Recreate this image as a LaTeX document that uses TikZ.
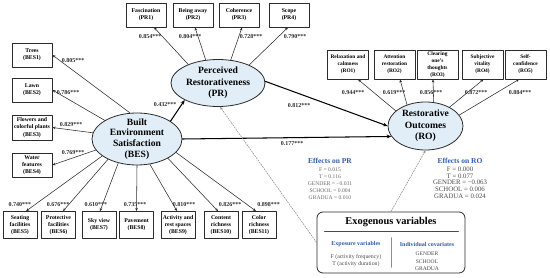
\documentclass[tikz,border=0pt]{standalone}
\usepackage{fontspec}
\setmainfont{Liberation Serif}
\usepackage{xcolor}
\usepackage{tikz}
\usetikzlibrary{arrows.meta,positioning,calc,shapes.geometric}
\definecolor{ink}{HTML}{2B2B2B}
\definecolor{softblue}{HTML}{E1EEF8}
\definecolor{effblue}{HTML}{2E5DA8}
\definecolor{dashgray}{HTML}{8E8E8E}
\definecolor{listgray}{HTML}{6A6A6A}
\definecolor{listdark}{HTML}{4A4A4A}
\newcommand{\fsz}[2]{\fontsize{#1}{#2}\selectfont}
\tikzset{
    every picture/.style={line cap=round,line join=round},
    latent/.style={ellipse,draw=ink,fill=softblue,line width=0.8pt,inner sep=0pt,
      font=\bfseries\fsz{9.6}{11.5},align=center},
    itembox/.style={draw=ink,fill=white,line width=0.75pt,inner sep=0.5pt,
      minimum width=40pt,minimum height=24pt,font=\bfseries\fsz{5.8}{7.2},align=center},
    robox/.style={itembox,minimum width=41pt,minimum height=29pt,font=\bfseries\fsz{5.4}{7}},
    besbox/.style={itembox,minimum width=34pt,minimum height=27pt,font=\bfseries\fsz{5.8}{7}},
    loading/.style={-{Stealth[length=3.2pt,width=2.6pt]},draw=ink,line width=0.55pt},
    pathflow/.style={-{Stealth[length=4.6pt,width=3.8pt]},draw=black,line width=1.05pt},
    exoflow/.style={-{Stealth[length=3.2pt,width=2.6pt]},draw=dashgray,line width=0.55pt,
      dash pattern=on 1.6pt off 1.1pt},
    coef/.style={inner sep=0pt,text=ink,font=\bfseries\fsz{6}{7}},
    efftitle/.style={inner sep=0pt,text=effblue,font=\bfseries\fsz{7.5}{9}},
    efflist/.style={inner sep=0pt,align=center},
    exobox/.style={draw=ink,line width=0.8pt,rounded corners=6pt,minimum width=148pt,
      minimum height=61pt,inner sep=0pt}
}
\begin{document}
\begin{tikzpicture}[x=1pt,y=-1pt]
  \useasboundingbox (0,0) rectangle (550,278);
  \node[latent,minimum width=94pt,minimum height=47pt] (PR) at (218,83) {Perceived\\Restorativeness\\(PR)};
  \node[latent,minimum width=75pt,minimum height=48pt] (RO) at (425.5,126) {Restorative\\Outcomes\\(RO)};
  \node[latent,minimum width=90pt,minimum height=52pt,inner ysep=-3pt,
    font=\bfseries\fsz{9.6}{10.7}] (BES) at (137,139) {Built\\Environment\\Satisfaction\\(BES)};
  \foreach \x/\n/\lbl in {146/1/Fascination,193/2/Being away,239/3/Coherence,289/4/Scope}
    \node[itembox] (pr\n) at (\x,15) {\lbl\\(PR\n)};
  \foreach \n/\a/\s in {1/148/8,2/118/2,3/61/3,4/30/-1}
    \draw[loading] (PR.\a) -- ([xshift=\s pt]pr\n.south);
  \foreach \n/\x/\c in {1/150/0.854,2/190/0.804,3/251/0.728,4/295/0.790}
    \node[coef] (cpr\n) at (\x,37) {\c***};
  \foreach \x/\n/\lbl in {348/1/{Relaxation and\\calmness},394.5/2/{Attention\\restoration},
      437.5/3/{Clearing\\one's\\thoughts},482.5/4/{Subjective\\vitality},525.5/5/{Self-\\confidence}}
    \node[robox] (ro\n) at (\x,64.5) {\lbl\\(RO\n)};
  \foreach \n/\a/\s in {1/153/10,2/131/5.5,3/71/-4.5,4/38/1,5/18/-6.5}
    \draw[loading] (RO.\a) -- ([xshift=\s pt]ro\n.south);
  \foreach \n/\x/\c in {1/353/0.944,2/394/0.619,3/431/0.856,4/476/0.872,5/520/0.884}
    \node[coef] (cro\n) at (\x,92.5) {\c***};
  \foreach \y/\n/\lbl/\h in {55/1/Trees/24,90/2/Lawn/24,127.5/3/{Flowers and\\colorful plants}/25,
      165/4/{Water\\features}/24}
    \node[itembox,minimum height=\h pt] (bes\n) at (32,\y) {\lbl\\(BES\n)};
  \foreach \n/\a in {1/105,2/150,3/172,4/195}
    \draw[loading] (BES.\a) -- (bes\n.east);
  \foreach \n/\x/\y/\c in {1/73/61/0.805,2/68/93/0.786,3/71/125/0.829,4/73/153/0.769}
    \node[coef] (cbes\n) at (\x,\y) {\c***};
  \foreach \x/\n/\lbl in {20/5/{Seating\\facilities},58.5/6/{Protective\\facilities},99/7/{Sky view},
      136.5/8/{Pavement},178/9/{Activity and\\rest spaces},221/10/{Content\\richness},259/11/{Color\\richness}}
    \node[besbox] (bes\n) at (\x,225) {\lbl\\(BES\n)};
  \foreach \n/\a/\s in {5/206/6,6/215/4.5,7/232/1,8/270/0,9/297/-1,10/328/-3,11/341/-3}
    \draw[loading] (BES.\a) -- ([xshift=\s pt]bes\n.north);
  \foreach \n/\x/\c in {5/20/0.740,6/58/0.676,7/96/0.610,8/135/0.735,9/184/0.810,10/230/0.826,11/268.5/0.898}
    \node[coef] (cbes\n) at (\x,205) {\c***};
  \draw[pathflow] (BES.28) -- (PR.207);
  \draw[pathflow] (PR.2) -- (RO.180);
  \draw[pathflow] (BES.0) -- (RO.197);
  \node[coef] (cbespr) at (165,105) {0.432***};
  \node[coef] (cprro) at (299,106) {0.812***};
  \node[coef] (cbesro) at (292,143.5) {0.177***};
  \node[efftitle] (effpr) at (330,160.5) {Effects on PR};
  \node[efflist,text=listgray,font=\fsz{5.6}{7}] (listpr) at (330,184)
    {F = 0.015\\T = 0.116\\GENDER = −0.031\\SCHOOL = 0.004\\GRADUA = 0.010};
  \node[efftitle] (effro) at (460,160.5) {Effects on RO};
  \node[efflist,text=listdark,font=\fsz{6.8}{6.7}] (listro) at (460,182.5)
    {F = 0.000\\T = 0.077\\GENDER = −0.063\\SCHOOL = 0.006\\GRADUA = 0.024};
  \node[exobox] (exo) at (391,242.5) {};
  \node[inner sep=0pt,font=\bfseries\fsz{10.4}{12}] (exotitle) at (391,222) {Exogenous variables};
  \draw[listdark,line width=0.9pt] ($(exo.north west)+(8,19.5)$) -- ($(exo.north east)+(-7,19.5)$);
  \draw[dashgray,line width=0.5pt] ($(exo.north)+(0,26)$) -- ($(exo.south)+(0,-6)$);
  \node[efftitle,font=\bfseries\fsz{6}{7}] (expo) at (356,244.5) {Exposure variables};
  \node[efflist,text=listdark,font=\fsz{5.8}{7}] (expolist) at (356,260.8)
    {F (activity frequency)\\T (activity duration)};
  \node[efftitle,font=\bfseries\fsz{6}{7}] (indiv) at (427,244.5) {Individual covariates};
  \node[efflist,text=listdark,font=\fsz{5.6}{7.2}] (indivlist) at (427,261.2) {GENDER\\SCHOOL\\GRADUA};
  \draw[exoflow] (exo.west) -- (PR.275);
  \draw[exoflow] (exo.north) -- (RO.270);
\end{tikzpicture}
\end{document}
